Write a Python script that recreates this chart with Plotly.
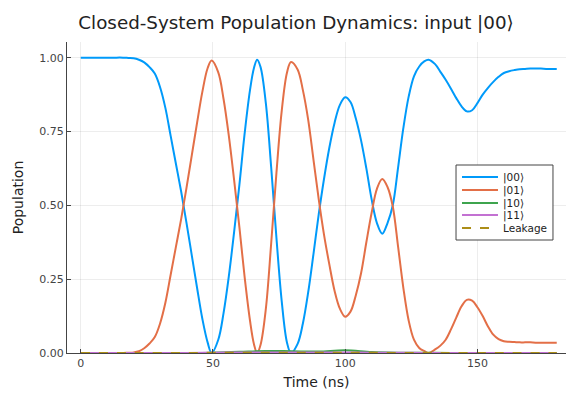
import plotly.graph_objects as go

# Time grid (ns)
t = [0, 6, 12, 16, 18, 20, 22, 24, 26, 28,
     30, 32, 34, 36, 38, 40, 42, 44, 46, 48,
     49.5, 52, 54, 56, 58, 60, 62, 64, 65.5, 66.7,
     68, 70, 72, 74, 76, 78, 79.5, 82, 84, 86,
     88, 90, 92, 94, 96, 98, 100, 102, 104, 106,
     108, 110, 112, 114, 116, 118, 120, 122, 124, 126,
     128, 130, 131.5, 134, 136, 138, 140, 142, 144, 146,
     148, 150, 152, 154, 156, 158, 160, 162, 164, 166,
     168, 170, 172, 174, 176, 178, 180]

p00 = [1.0, 1.0, 1.0, 1.0, 0.999, 0.998, 0.993, 0.984, 0.968, 0.946,
       0.90, 0.83, 0.735, 0.64, 0.545, 0.44, 0.33, 0.22, 0.115, 0.035,
       0.0, 0.045, 0.135, 0.26, 0.41, 0.57, 0.745, 0.89, 0.965, 0.993,
       0.968, 0.845, 0.63, 0.39, 0.175, 0.035, 0.0, 0.031, 0.10, 0.205,
       0.335, 0.47, 0.59, 0.695, 0.78, 0.84, 0.866, 0.85, 0.795, 0.72,
       0.625, 0.52, 0.44, 0.404, 0.44, 0.50, 0.628, 0.762, 0.868, 0.937,
       0.97, 0.988, 0.993, 0.978, 0.952, 0.925, 0.895, 0.863, 0.835, 0.818,
       0.822, 0.846, 0.875, 0.898, 0.918, 0.935, 0.948, 0.954, 0.958, 0.961,
       0.962, 0.963, 0.963, 0.963, 0.962, 0.962, 0.962]

p01 = [0.0, 0.0, 0.0, 0.0, 0.001, 0.002, 0.006, 0.016, 0.032, 0.054,
       0.10, 0.17, 0.265, 0.36, 0.455, 0.56, 0.67, 0.78, 0.885, 0.965,
       0.99, 0.95, 0.86, 0.735, 0.585, 0.425, 0.255, 0.11, 0.03, 0.0,
       0.028, 0.15, 0.37, 0.61, 0.82, 0.95, 0.985, 0.96, 0.89, 0.79,
       0.655, 0.52, 0.40, 0.30, 0.21, 0.15, 0.123, 0.14, 0.195, 0.27,
       0.375, 0.475, 0.556, 0.589, 0.562, 0.496, 0.36, 0.22, 0.11, 0.045,
       0.017, 0.006, 0.0, 0.012, 0.025, 0.045, 0.08, 0.12, 0.158, 0.18,
       0.177, 0.155, 0.125, 0.09, 0.062, 0.047, 0.04, 0.038, 0.037, 0.036,
       0.036, 0.036, 0.035, 0.035, 0.035, 0.035, 0.035]

# Minor populations (near zero), coarser time grid
t_minor = [0, 20, 40, 50, 60, 70, 80, 90, 100, 110, 120, 130, 140, 160, 180]
p10 = [0.0, 0.0, 0.0, 0.001, 0.004, 0.007, 0.006, 0.005, 0.009, 0.003, 0.001, 0.001, 0.0, 0.0, 0.0]
p11 = [0.0, 0.0, 0.0, 0.001, 0.002, 0.002, 0.002, 0.002, 0.002, 0.001, 0.001, 0.0, 0.0, 0.0, 0.0]
leak = [0.0, 0.0, 0.0, 0.001, 0.001, 0.001, 0.001, 0.001, 0.001, 0.001, 0.0, 0.0, 0.0, 0.0, 0.0]

series = [
    ("|00⟩", t, p00, "#009AFA", "solid"),
    ("|01⟩", t, p01, "#E36F47", "solid"),
    ("|10⟩", t_minor, p10, "#3EA44E", "solid"),
    ("|11⟩", t_minor, p11, "#C371D2", "solid"),
    ("Leakage", t_minor, leak, "#AC8E18", "dash"),
]

x_ticks = [0, 50, 100, 150]
y_ticks = [0.0, 0.25, 0.5, 0.75, 1.0]
y_labels = ["0.00", "0.25", "0.50", "0.75", "1.00"]

FONT = "DejaVu Sans"

fig = go.Figure()
for name, xs, vals, col, dash in series:
    fig.add_trace(go.Scatter(
        x=xs, y=vals, name=name, mode="lines", showlegend=False,
        line=dict(color=col, width=2, dash=dash, shape="spline", smoothing=1.0),
    ))

# Compact legend drawn with shapes + text (paper coordinates)
leg_x0, leg_x1, leg_y0, leg_y1 = 0.7796, 0.9739, 0.3633, 0.6045
row_y = [0.5659, 0.5241, 0.4823, 0.4437, 0.4019]
line_x0, line_x1, text_x = 0.7916, 0.8637, 0.8697
fig.add_shape(type="rect", xref="paper", yref="paper",
              x0=leg_x0, x1=leg_x1, y0=leg_y0, y1=leg_y1,
              line=dict(color="#444", width=1), fillcolor="white", layer="above")
for (name, xs, vals, col, dash), ry in zip(series, row_y):
    fig.add_shape(type="line", xref="paper", yref="paper",
                  x0=line_x0, x1=line_x1, y0=ry, y1=ry,
                  line=dict(color=col, width=2, dash=dash), layer="above")
    fig.add_annotation(xref="paper", yref="paper", x=text_x, y=ry,
                       text=name, showarrow=False, xanchor="left", yanchor="middle",
                       font=dict(size=10.5, color="#222", family=FONT))

fig.update_layout(
    width=566, height=393,
    margin=dict(l=67, r=0, t=42, b=40),
    paper_bgcolor="white", plot_bgcolor="white",
    font=dict(family=FONT, color="#333"),
    title=dict(text="Closed-System Population Dynamics: input |00⟩",
               x=0.523, xref="container", xanchor="center",
               y=1 - 23 / 393, yref="container", yanchor="middle",
               font=dict(size=18.3, color="#222", family=FONT)),
    showlegend=False,
)
fig.update_xaxes(
    range=[-5.2, 183.5], tickvals=x_ticks, ticks="inside", ticklen=4, tickcolor="#444",
    showline=True, linecolor="#444", linewidth=1, mirror=False,
    showgrid=True, gridcolor="rgba(0,0,0,0.07)", gridwidth=1, zeroline=False,
    tickfont=dict(size=11, color="#444"),
    title=dict(text="Time (ns)", font=dict(size=14, color="#222"), standoff=7),
)
fig.update_yaxes(
    range=[0, 1.053], tickvals=y_ticks, ticktext=y_labels, ticks="inside", ticklen=4, tickcolor="#444",
    showline=True, linecolor="#444", linewidth=1, mirror=False,
    showgrid=True, gridcolor="rgba(0,0,0,0.07)", gridwidth=1, zeroline=False,
    tickfont=dict(size=11, color="#444"),
    title=dict(text="Population", font=dict(size=14, color="#222"), standoff=12),
)

fig.write_html("out.html")
